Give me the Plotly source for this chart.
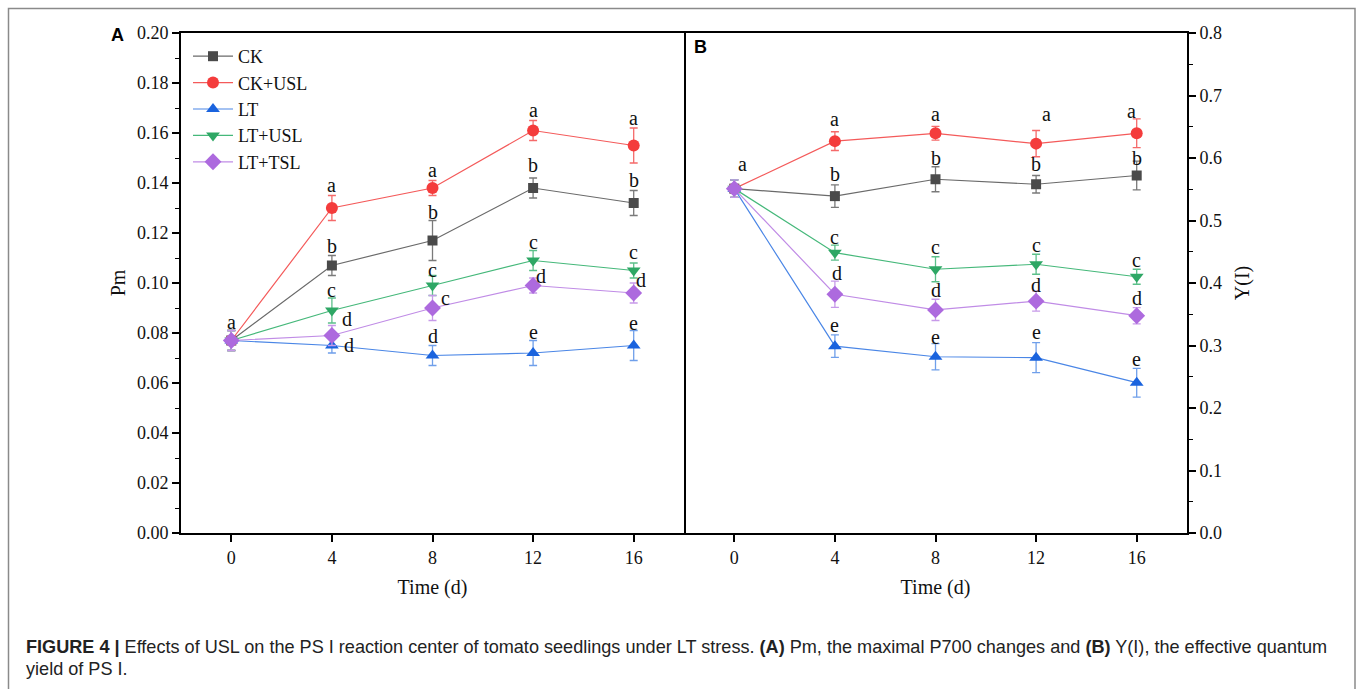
import plotly.graph_objects as go

W, H = 1357, 689

# ---- data -------------------------------------------------------------
days = [0, 4, 8, 12, 16]
groups = ["CK", "CK+USL", "LT", "LT+USL", "LT+TSL"]

# Pm (panel A): means and SD
pm_mean = {
    "CK":     [0.077, 0.107, 0.117, 0.138, 0.132],
    "CK+USL": [0.077, 0.130, 0.138, 0.161, 0.155],
    "LT":     [0.077, 0.075, 0.071, 0.072, 0.075],
    "LT+USL": [0.077, 0.089, 0.099, 0.109, 0.105],
    "LT+TSL": [0.077, 0.079, 0.090, 0.099, 0.096],
}
pm_sd = {
    "CK":     [0.004, 0.004, 0.008, 0.004, 0.005],
    "CK+USL": [0.004, 0.005, 0.003, 0.004, 0.007],
    "LT":     [0.004, 0.003, 0.004, 0.005, 0.006],
    "LT+USL": [0.004, 0.005, 0.004, 0.004, 0.003],
    "LT+TSL": [0.004, 0.004, 0.005, 0.003, 0.004],
}
pm_letters = {
    "CK":     ["", "b", "b", "b", "b"],
    "CK+USL": ["", "a", "a", "a", "a"],
    "LT":     ["", "d", "d", "e", "e"],
    "LT+USL": ["", "c", "c", "c", "c"],
    "LT+TSL": ["a", "d", "c", "d", "d"],
}

# Y(I) (panel B): means and SD
yi_mean = {
    "CK":     [0.551, 0.539, 0.566, 0.558, 0.572],
    "CK+USL": [0.551, 0.627, 0.6395, 0.623, 0.6395],
    "LT":     [0.551, 0.299, 0.282, 0.2805, 0.2405],
    "LT+USL": [0.551, 0.4485, 0.422, 0.430, 0.410],
    "LT+TSL": [0.551, 0.382, 0.357, 0.371, 0.3477],
}
yi_sd = {
    "CK":     [0.014, 0.018, 0.020, 0.014, 0.023],
    "CK+USL": [0.014, 0.015, 0.011, 0.021, 0.023],
    "LT":     [0.014, 0.018, 0.021, 0.024, 0.023],
    "LT+USL": [0.014, 0.012, 0.020, 0.016, 0.012],
    "LT+TSL": [0.014, 0.021, 0.017, 0.016, 0.013],
}
yi_letters = {
    "CK":     ["", "b", "b", "b", "b"],
    "CK+USL": ["", "a", "a", "a", "a"],
    "LT":     ["", "e", "e", "e", "e"],
    "LT+USL": ["", "c", "c", "c", "c"],
    "LT+TSL": ["a", "d", "d", "d", "d"],
}

# ---- styling ----------------------------------------------------------
style = {
    "CK":     dict(symbol="square",        size=10, mc="#4a4a4a", lc="#6a6a6a", ec="#7a7a7a"),
    "CK+USL": dict(symbol="circle",        size=12, mc="#f43c3c", lc="#f45a5a", ec="#f56a6a"),
    "LT":     dict(symbol="triangle-up",   size=12, mc="#1a63de", lc="#4a86e6", ec="#6f9fea"),
    "LT+USL": dict(symbol="triangle-down", size=12, mc="#2ea765", lc="#45b87a", ec="#5cc08a"),
    "LT+TSL": dict(symbol="diamond",       size=13, mc="#ad6ade", lc="#c08ce6", ec="#c79ae9"),
}

# pixel offsets (dx, dy) of the significance letters relative to each point
off_a = {
    "CK":     [(0, 0), (0, 20), (0, 28), (0, 23), (0, 23)],
    "CK+USL": [(0, 0), (0, 23), (0, 18), (0, 20), (0, 27)],
    "LT":     [(0, 0), (17, 1), (0, 20), (0, 21), (0, 23)],
    "LT+USL": [(0, 0), (0, 21), (0, 16), (0, 19), (0, 19)],
    "LT+TSL": [(0, 19), (15, 17), (13, 10), (8, 10), (7, 13)],
}
off_b = {
    "CK":     [(0, 0), (0, 22), (0, 21), (0, 20), (0, 17)],
    "CK+USL": [(0, 0), (0, 22), (0, 19), (10, 30), (-5, 22)],
    "LT":     [(0, 0), (0, 21), (0, 20), (0, 26), (0, 24)],
    "LT+USL": [(0, 0), (0, 16), (0, 22), (0, 19), (0, 17)],
    "LT+TSL": [(8, 25), (2, 21), (0, 20), (0, 16), (0, 18)],
}

SERIF = "Liberation Serif, serif"
SANS = "Liberation Sans, Arial, sans-serif"

fig = go.Figure()

for xa, ya, mean, sd, show in [("x", "y", pm_mean, pm_sd, True),
                               ("x2", "y2", yi_mean, yi_sd, False)]:
    for g in groups:
        s = style[g]
        fig.add_trace(go.Scatter(
            x=days, y=mean[g], name=g, xaxis=xa, yaxis=ya,
            mode="lines+markers", showlegend=show, legendgroup=g,
            line=dict(color=s["lc"], width=1.2),
            marker=dict(symbol=s["symbol"], size=s["size"], color=s["mc"],
                        line=dict(width=0)),
            error_y=dict(type="data", array=sd[g], color=s["ec"],
                         thickness=1.3, width=4),
        ))

# significance letters
annotations = []
for xa, ya, mean, letters, off in [("x", "y", pm_mean, pm_letters, off_a),
                                   ("x2", "y2", yi_mean, yi_letters, off_b)]:
    for g in groups:
        for i, d in enumerate(days):
            t = letters[g][i]
            if not t:
                continue
            dx, dy = off[g][i]
            annotations.append(dict(
                x=d, y=mean[g][i], xref=xa, yref=ya, text=t, showarrow=False,
                xshift=dx, yshift=dy, font=dict(family=SERIF, size=20, color="#111"),
                xanchor="center", yanchor="middle"))

# geometry in paper fractions
xA = [181 / W, 684 / W]
xB = [684 / W, 1187 / W]
yD = [1 - 533 / H, 1 - 33 / H]

tick_font = dict(family=SERIF, size=18, color="#111")
title_font = dict(family=SERIF, size=20, color="#111")

axis_common = dict(showline=True, linecolor="black", linewidth=2,
                   showgrid=False, zeroline=False, ticks="outside", ticklen=7,
                   tickwidth=1.6, tickcolor="black", tickfont=tick_font,
                   automargin=False)

xcfg = dict(range=[-2, 18], tickvals=days, mirror=True, **axis_common,
            title=dict(text="Time (d)", font=title_font, standoff=13))

fig.update_layout(
    font=dict(family=SERIF, size=18, color="#111"),
    width=W, height=H, margin=dict(l=0, r=0, t=0, b=0, autoexpand=False),
    paper_bgcolor="white", plot_bgcolor="white",
    xaxis=dict(domain=xA, anchor="y", **xcfg),
    xaxis2=dict(domain=xB, anchor="y2", **xcfg),
    yaxis=dict(domain=yD, anchor="x", range=[0, 0.2], dtick=0.02, tickformat=".2f",
               mirror=True,
               minor=dict(dtick=0.01, ticks="outside", ticklen=4, tickwidth=1.4,
                          tickcolor="black"),
               title=dict(text="Pm", font=title_font, standoff=6),
               **axis_common),
    yaxis2=dict(domain=yD, anchor="x2", side="right", range=[0, 0.8], dtick=0.1,
                tickformat=".1f", mirror=False,
                minor=dict(dtick=0.05, ticks="outside", ticklen=4, tickwidth=1.4,
                           tickcolor="black"),
                title=dict(text="Y(I)", font=title_font, standoff=14),
                **axis_common),
    legend=dict(x=188 / W, y=1 - 38 / H, xanchor="left", yanchor="top",
                bgcolor="rgba(0,0,0,0)", font=dict(family=SERIF, size=18, color="#111"),
                tracegroupgap=0, itemwidth=40),
    annotations=annotations + [
        dict(x=117 / W, y=1 - 35 / H, xref="paper", yref="paper", text="<b>A</b>",
             showarrow=False, font=dict(family=SANS, size=18, color="black"),
             xanchor="center", yanchor="middle"),
        dict(x=700 / W, y=1 - 47 / H, xref="paper", yref="paper", text="<b>B</b>",
             showarrow=False, font=dict(family=SANS, size=18, color="black"),
             xanchor="center", yanchor="middle"),
        dict(x=24 / W, y=1 - 647 / H, xref="paper", yref="paper",
             text="<b>FIGURE 4 |</b> Effects of USL on the PS I reaction center of tomato "
                  "seedlings under LT stress. <b>(A)</b> Pm, the maximal P700 changes and "
                  "<b>(B)</b> Y(I), the effective quantum",
             showarrow=False, font=dict(family=SANS, size=18.1, color="#222"),
             xanchor="left", yanchor="middle"),
        dict(x=24 / W, y=1 - 669 / H, xref="paper", yref="paper",
             text="yield of PS I.",
             showarrow=False, font=dict(family=SANS, size=18.1, color="#222"),
             xanchor="left", yanchor="middle"),
    ],
    shapes=[dict(type="rect", xref="paper", yref="paper",
                 x0=8.5 / W, x1=1355 / W, y0=-0.05, y1=1 - 8.5 / H,
                 line=dict(color="#8a8a8a", width=1.5), layer="below")],
)

fig.write_html("out.html")
